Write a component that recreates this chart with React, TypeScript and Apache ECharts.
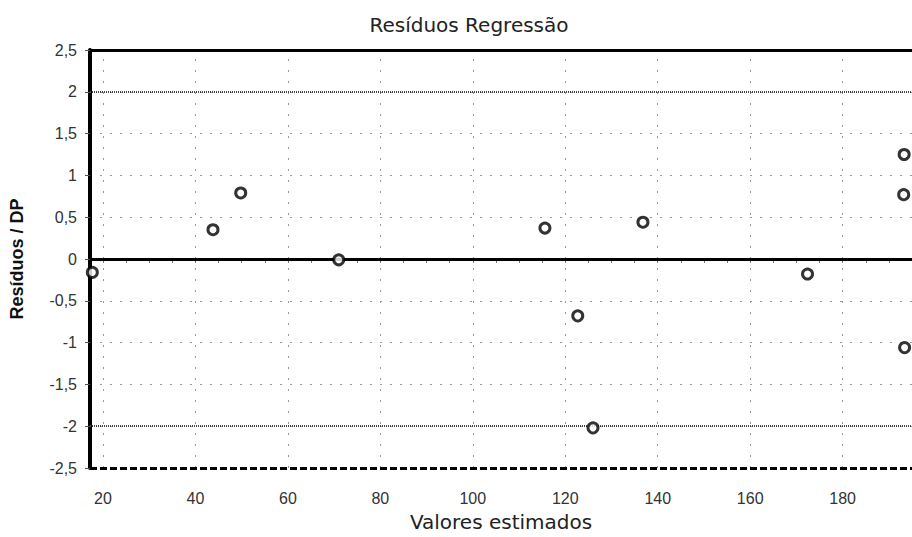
import React, { useEffect, useRef } from "react";
import * as echarts from "echarts";

const title = "Resíduos Regressão";
const xName = "Valores estimados";
const yName = "Resíduos / DP";

// Estimated values (x) and standardized residuals (y)
const estimated = [17.7, 43.8, 49.8, 71.0, 115.6, 122.7, 126.0, 136.8, 172.4, 193.3, 193.2, 193.4];
const residuals = [-0.16, 0.35, 0.79, -0.01, 0.37, -0.68, -2.02, 0.44, -0.18, 1.25, 0.77, -1.06];

const xTickLabels = [20, 40, 60, 80, 100, 120, 140, 160, 180];
const xMinorTicks = [20, 25, 30, 35, 40, 45, 50, 55, 60, 65, 70, 75, 80, 85, 90, 95, 100, 105, 110, 115, 120, 125, 130, 135, 140, 145, 150, 155, 160, 165, 170, 175, 180, 185, 190, 195];
const limitLines = [2, -2];
const zeroLine = 0;
const topLine = 2.5;
const bottomLine = -2.5;

export default function App() {
  const ref = useRef<HTMLDivElement>(null);
  useEffect(() => {
    if (!ref.current) return;
    const chart = echarts.init(ref.current, null, { renderer: "svg" });
    const font = "Liberation Sans";
    const wide = "DejaVu Sans";
    chart.setOption({
      animation: false,
      backgroundColor: "#ffffff",
      title: {
        text: title,
        left: 464,
        top: 10,
        textAlign: "center",
        textStyle: { fontFamily: wide, fontSize: 20, fontWeight: "normal", color: "#222" },
      },
      grid: { left: 89, right: 0, top: 50, bottom: 69, containLabel: false },
      xAxis: [
        {
          type: "value",
          min: 17.2,
          max: 195,
          name: xName,
          nameLocation: "middle",
          nameGap: 44,
          nameTextStyle: { fontFamily: wide, fontSize: 20, color: "#222" },
          axisLine: { show: true, lineStyle: { color: "#000", width: 3, type: [7, 3] } },
          axisTick: { show: true, customValues: xMinorTicks, length: 4, lineStyle: { color: "#777", width: 1 } },
          axisLabel: {
            customValues: xTickLabels,
            margin: 22,
            fontFamily: font,
            fontSize: 16,
            color: "#333",
          },
          splitLine: { show: false },
        },
      ],
      yAxis: {
        type: "value",
        min: -2.5,
        max: 2.5,
        interval: 0.5,
        name: yName,
        nameLocation: "middle",
        nameGap: 64,
        nameRotate: 90,
        nameTextStyle: { fontFamily: font, fontSize: 18, fontWeight: "bold", color: "#111" },
        axisLine: { show: true, lineStyle: { color: "#000", width: 4 } },
        axisTick: { show: true, length: 5, lineStyle: { color: "#555", width: 1 } },
        axisLabel: {
          margin: 13,
          fontFamily: font,
          fontSize: 16,
          color: "#333",
          formatter: (v: number) => String(v).replace(".", ","),
        },
        splitLine: { show: true, lineStyle: { color: "#999", width: 1, type: [2, 8] } },
      },
      series: [
        {
          type: "scatter",
          data: estimated.map((x, i) => [x, residuals[i]]),
          symbol: "circle",
          symbolSize: 10,
          z: 5,
          itemStyle: { color: "#ffffff", borderColor: "#000000", borderWidth: 3 },
          markLine: {
            silent: true,
            symbol: ["none", "none"],
            label: { show: false },
            data: [
              ...xTickLabels.map((v) => ({ xAxis: v, lineStyle: { color: "#999", width: 1, type: [2, 9] } })),
              ...limitLines.map((v) => ({ yAxis: v, lineStyle: { color: "#444", width: 2, type: [1, 1] } })),
              { yAxis: zeroLine, lineStyle: { color: "#000", width: 3, type: "solid" } },
              { yAxis: topLine, lineStyle: { color: "#000", width: 3, type: "solid" } },
              { yAxis: bottomLine, lineStyle: { color: "#000", width: 3, type: [7, 3] } },
            ],
          },
        },
      ],
    });
    return () => chart.dispose();
  }, []);
  return <div ref={ref} style={{ width: 912, height: 537, position: "absolute", left: 0, top: 0 }} />;
}
